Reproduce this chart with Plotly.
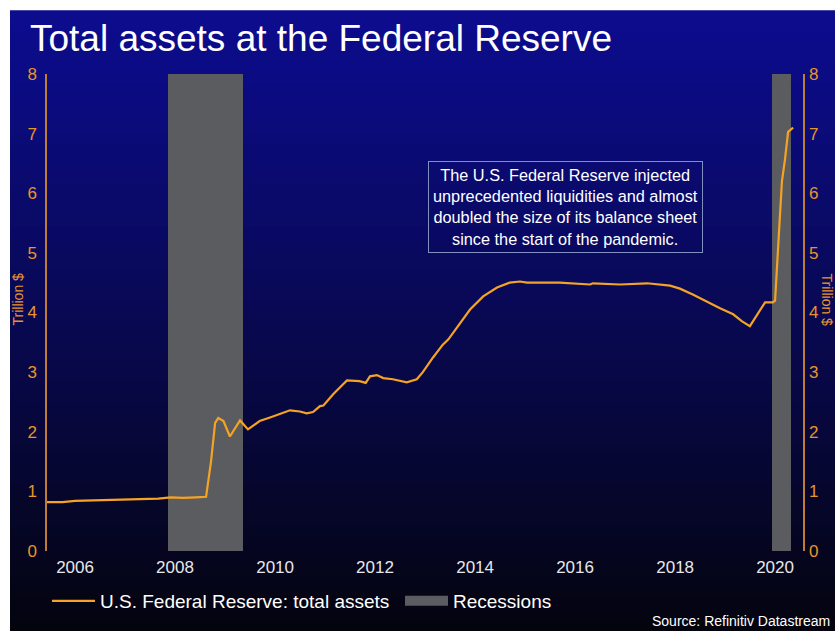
import plotly.graph_objects as go
import pandas as pd

# ---- data ----
dates = [
    "2005-06-10", "2005-10-01", "2006-01-01", "2006-06-01", "2006-10-01",
    "2007-01-01", "2007-05-01", "2007-09-01", "2007-12-01", "2008-03-01",
    "2008-06-01", "2008-08-15", "2008-09-20", "2008-10-20", "2008-11-12",
    "2008-12-20", "2009-02-05", "2009-04-20", "2009-06-17", "2009-09-10",
    "2009-11-25", "2010-04-20", "2010-07-01", "2010-08-20", "2010-10-05",
    "2010-11-25", "2010-12-20", "2011-03-01", "2011-06-10", "2011-09-10",
    "2011-10-25", "2011-11-25", "2012-01-15", "2012-03-01", "2012-05-10",
    "2012-08-20", "2012-11-01", "2012-12-15", "2013-03-01", "2013-05-10",
    "2013-06-20", "2013-09-10", "2013-11-25", "2014-03-01", "2014-06-10",
    "2014-09-10", "2014-11-25", "2015-01-15", "2015-09-10", "2016-04-20",
    "2016-05-10", "2016-11-25", "2017-06-10", "2017-11-25", "2018-02-05",
    "2018-05-10", "2018-08-20", "2018-11-25", "2019-03-01", "2019-05-05",
    "2019-07-01", "2019-09-10", "2019-10-20", "2019-12-16", "2020-01-01",
    "2020-02-20", "2020-03-13", "2020-04-05", "2020-05-12",
]
total_assets = [
    0.82, 0.82, 0.84, 0.85, 0.85,
    0.86, 0.87, 0.88, 0.90, 0.89,
    0.90, 0.91, 1.50, 2.15, 2.23,
    2.18, 1.92, 2.19, 2.04, 2.18,
    2.24, 2.36, 2.34, 2.31, 2.33,
    2.43, 2.44, 2.63, 2.86, 2.85,
    2.82, 2.93, 2.95, 2.90, 2.88,
    2.83, 2.88, 3.00, 3.25, 3.46,
    3.55, 3.80, 4.05, 4.27, 4.42,
    4.50, 4.52, 4.50, 4.50, 4.47,
    4.49, 4.47, 4.49, 4.45, 4.40,
    4.30, 4.18, 4.07, 3.97, 3.85,
    3.77, 4.02, 4.17, 4.17, 4.20,
    6.20, 6.56, 7.03, 7.10,
]
rec_start = ["2007-11-10", "2019-12-06"]
rec_end = ["2009-05-10", "2020-04-23"]
rec_height = [8, 8]
x_ticks = ["2006", "2008", "2010", "2012", "2014", "2016", "2018", "2020"]
y_ticks = [0, 1, 2, 3, 4, 5, 6, 7, 8]

title_text = "Total assets at the Federal Reserve"
note_text = ("The U.S. Federal Reserve injected<br>unprecedented liquidities and almost<br>"
             "doubled the size of its balance sheet<br>since the start of the pandemic.")
source_text = "Source: Refinitiv Datastream"

FONT = "Arial, Liberation Sans, sans-serif"
ORANGE = "#f4a324"
LABEL_ORANGE = "#e8952a"
AXIS_ORANGE = "#c07c30"
REC_GREY = "#5b5c60"

# ---- layout geometry ----
W, H = 835, 631
ML, MR, MT, MB = 47, 32, 74, 79
PW, PH = W - ML - MR, H - MT - MB

def px(xp):
    return (xp - ML) / PW

def py(yp):
    return (H - MB - yp) / PH

fig = go.Figure()

rs = pd.to_datetime(rec_start)
re_ = pd.to_datetime(rec_end)
mids = rs + (re_ - rs) / 2
widths = [(b - a).total_seconds() * 1000 for a, b in zip(rs, re_)]
fig.add_trace(go.Bar(
    x=mids, y=rec_height, width=widths, name="Recessions",
    marker=dict(color=REC_GREY, line=dict(width=0)),
    yaxis="y", showlegend=False, hoverinfo="skip",
))
fig.add_trace(go.Scatter(
    x=pd.to_datetime(dates), y=total_assets, mode="lines",
    name="U.S. Federal Reserve: total assets",
    line=dict(color=ORANGE, width=2.2), yaxis="y2", legendrank=1,
))
# legend entry for the recession bands (wide grey swatch)
fig.add_trace(go.Scatter(
    x=[rs[0]], y=[None], mode="lines", name="Recessions",
    line=dict(color=REC_GREY, width=14), yaxis="y", legendrank=2,
    hoverinfo="skip",
))

# background gradient (white frame at top/left like the reference)
shapes = []
n = 60
top, bot = 10, H
c0 = (12, 12, 142)
c1 = (4, 4, 14)
for i in range(n):
    y0p = top + (bot - top) * i / n
    y1p = top + (bot - top) * (i + 1) / n
    t = (i + 0.5) / n
    tt = t ** 1.1
    c = tuple(int(round(c0[k] + (c1[k] - c0[k]) * tt)) for k in range(3))
    shapes.append(dict(
        type="rect", xref="paper", yref="paper", layer="below",
        x0=px(10), x1=px(W + 2), y0=py(y1p + 2.5), y1=py(y0p),
        fillcolor="rgb(%d,%d,%d)" % c, line=dict(width=0),
    ))

annotations = [
    dict(text=title_text, xref="paper", yref="paper", x=px(28), y=py(38),
         xanchor="left", yanchor="middle", showarrow=False,
         font=dict(family=FONT, size=37, color="white")),
    dict(text=note_text, xref="paper", yref="paper", x=px(565), y=py(207),
         xanchor="center", yanchor="middle", showarrow=False, align="center",
         bordercolor="#8090c0", borderwidth=1, borderpad=4,
         font=dict(family=FONT, size=16.3, color="white")),
    dict(text=source_text, xref="paper", yref="paper", x=px(832), y=py(622),
         xanchor="right", yanchor="middle", showarrow=False,
         font=dict(family=FONT, size=14, color="white")),
    dict(text="Trillion $", xref="paper", yref="paper", x=px(18), y=py(300),
         xanchor="center", yanchor="middle", showarrow=False, textangle=-90,
         font=dict(family=FONT, size=14, color=LABEL_ORANGE)),
    dict(text="Trillion $", xref="paper", yref="paper", x=px(827), y=py(300),
         xanchor="center", yanchor="middle", showarrow=False, textangle=90,
         font=dict(family=FONT, size=14, color=LABEL_ORANGE)),
]

yax = dict(range=[0, 8], tickvals=y_ticks, ticktext=[str(v) for v in y_ticks],
           showgrid=False, zeroline=False, ticks="", ticklabelstandoff=5,
           tickfont=dict(family=FONT, size=17, color=LABEL_ORANGE), fixedrange=True)

fig.update_layout(
    width=W, height=H,
    margin=dict(l=ML, r=MR, t=MT, b=MB, pad=0),
    paper_bgcolor="white", plot_bgcolor="rgba(0,0,0,0)",
    shapes=shapes, annotations=annotations,
    showlegend=True,
    legend=dict(orientation="h", x=px(47), y=py(601), xanchor="left", yanchor="middle",
                bgcolor="rgba(0,0,0,0)", font=dict(family=FONT, size=19, color="white"),
                entrywidth=295, entrywidthmode="pixels", itemwidth=43,
                traceorder="normal"),
    xaxis=dict(type="date", range=["2005-06-10", "2020-07-23"],
               tickvals=[x + "-01-01" for x in x_ticks], ticktext=x_ticks,
               showgrid=False, zeroline=False, showline=False, ticks="",
               ticklabelstandoff=4,
               tickfont=dict(family=FONT, size=17, color="#e8e8e8")),
    yaxis=dict(**yax, side="left", showline=True, linecolor=AXIS_ORANGE,
               linewidth=1.5, mirror=True),
    yaxis2=dict(**yax, side="right", overlaying="y", showline=False),
    bargap=0,
)

fig.write_html("out.html")
